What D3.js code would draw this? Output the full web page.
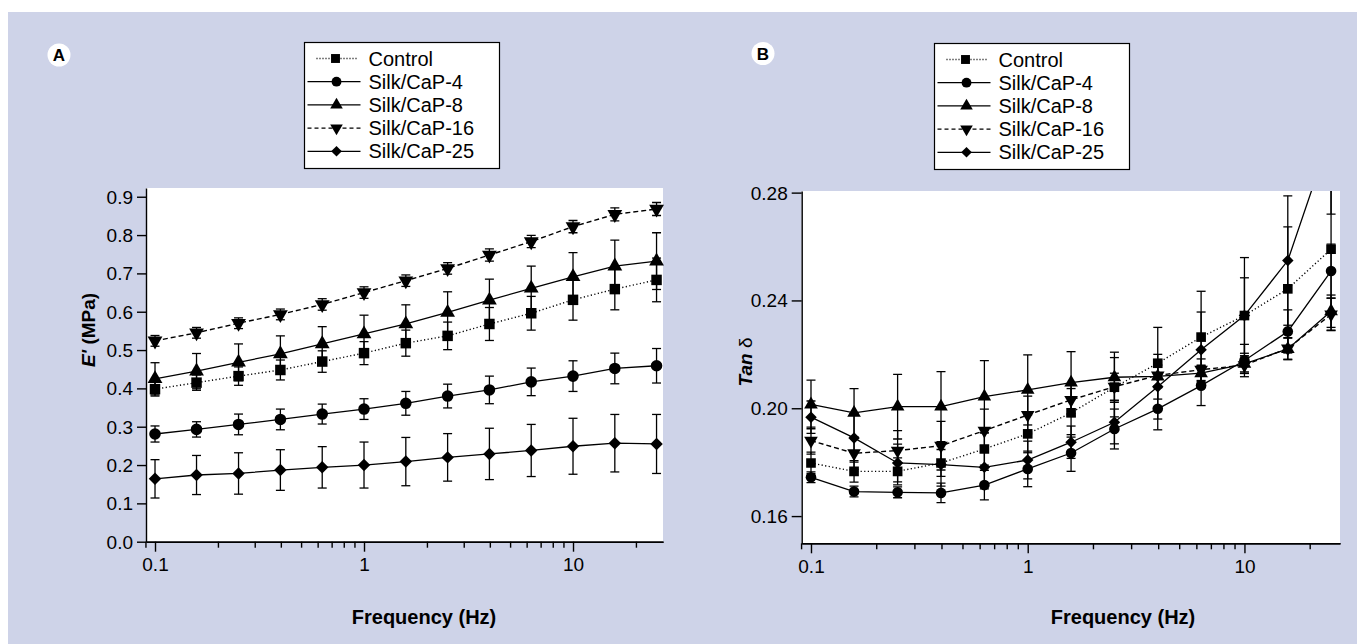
<!DOCTYPE html>
<html><head><meta charset="utf-8">
<script src="https://cdn.jsdelivr.net/npm/d3@7"></script>
<style>body{margin:0;background:#fff} svg{display:block} text{font-family:"Liberation Sans",Arial,Helvetica,sans-serif}</style>
</head><body><svg id="c" width="1357" height="644"></svg>
<script>
// ---------- data ----------
const freq = [0.1, 0.158, 0.251, 0.398, 0.631, 1, 1.585, 2.512, 3.981, 6.31, 10, 15.85, 25.1];
const seriesNames = ["Control", "Silk/CaP-4", "Silk/CaP-8", "Silk/CaP-16", "Silk/CaP-25"];

const xMajorTicks = [0.1, 1, 10];
const xMajorLabels = ["0.1", "1", "10"];
const xMinorTicks = [0.09, 0.2, 0.3, 0.4, 0.5, 0.6, 0.7, 0.8, 0.9, 2, 3, 4, 5, 6, 7, 8, 9, 20];
const yTicksA = [0, 0.1, 0.2, 0.3, 0.4, 0.5, 0.6, 0.7, 0.8, 0.9];
const yLabelsA = ["0.0", "0.1", "0.2", "0.3", "0.4", "0.5", "0.6", "0.7", "0.8", "0.9"];
const yTicksB = [0.16, 0.20, 0.24, 0.28];
const yLabelsB = ["0.16", "0.20", "0.24", "0.28"];

// Panel A: E' (MPa)
const controlE   = [0.398, 0.415, 0.432, 0.448, 0.470, 0.492, 0.518, 0.537, 0.568, 0.596, 0.631, 0.659, 0.683];
const controlEerr= [0.018, 0.020, 0.024, 0.026, 0.028, 0.030, 0.034, 0.036, 0.043, 0.044, 0.053, 0.054, 0.057];
const cap4E      = [0.281, 0.293, 0.306, 0.319, 0.333, 0.346, 0.361, 0.380, 0.396, 0.417, 0.432, 0.452, 0.459];
const cap4Eerr   = [0.021, 0.020, 0.027, 0.027, 0.026, 0.027, 0.031, 0.031, 0.036, 0.036, 0.040, 0.040, 0.045];
const cap8E      = [0.425, 0.445, 0.468, 0.490, 0.516, 0.542, 0.568, 0.598, 0.630, 0.661, 0.691, 0.719, 0.732];
const cap8Eerr   = [0.042, 0.046, 0.048, 0.047, 0.045, 0.049, 0.050, 0.054, 0.055, 0.058, 0.063, 0.068, 0.074];
const cap16E     = [0.524, 0.545, 0.570, 0.593, 0.619, 0.650, 0.681, 0.713, 0.748, 0.783, 0.822, 0.854, 0.868];
const cap16Eerr  = [0.014, 0.014, 0.014, 0.014, 0.015, 0.015, 0.015, 0.015, 0.016, 0.016, 0.016, 0.017, 0.017];
const cap25E     = [0.164, 0.174, 0.178, 0.187, 0.194, 0.200, 0.209, 0.220, 0.229, 0.238, 0.249, 0.257, 0.255];
const cap25Eerr  = [0.050, 0.051, 0.054, 0.053, 0.054, 0.060, 0.063, 0.062, 0.067, 0.068, 0.073, 0.075, 0.077];

// Panel B: Tan delta
const controlT   = [0.1797, 0.1766, 0.1766, 0.1797, 0.1849, 0.1905, 0.1983, 0.2078, 0.2167, 0.2264, 0.2344, 0.2443, 0.2590];
const controlTerr= [0.004, 0.004, 0.005, 0.005, 0.006, 0.007, 0.009, 0.011, 0.0133, 0.017, 0.0215, 0.023, 0.030];
const cap4T      = [0.1744, 0.1691, 0.1688, 0.1686, 0.1715, 0.1775, 0.1834, 0.1923, 0.1998, 0.2084, 0.2177, 0.2285, 0.2509];
const cap4Terr   = [0.002, 0.002, 0.002, 0.0036, 0.0055, 0.0066, 0.0068, 0.0074, 0.0078, 0.0074, 0.006, 0.008, 0.010];
const cap8T      = [0.2014, 0.1983, 0.2006, 0.2006, 0.2043, 0.2068, 0.2095, 0.2115, 0.2118, 0.2130, 0.2165, 0.2220, 0.2360];
const cap8Terr   = [0.009, 0.009, 0.012, 0.013, 0.0134, 0.013, 0.0115, 0.0093, 0.004, 0.003, 0.003, 0.004, 0.006];
const cap16T     = [0.1880, 0.1833, 0.1843, 0.1861, 0.1917, 0.1975, 0.2031, 0.2080, 0.2122, 0.2143, 0.2160, 0.2222, 0.2348];
const cap16Terr  = [0.005, 0.006, 0.0074, 0.009, 0.008, 0.007, 0.006, 0.005, 0.004, 0.004, 0.003, 0.004, 0.006];
const cap25T     = [0.1967, 0.1890, 0.1797, 0.1791, 0.1781, 0.1808, 0.1874, 0.1948, 0.2080, 0.2217, 0.2344, 0.2548, 0.3020];
const cap25Terr  = [0.006, 0.009, 0.007, 0.008, 0.008, 0.007, 0.006, 0.008, 0.012, 0.014, 0.014, 0.024, 0.030];

// ---------- styling / layout ----------
const BG = "#ced3e8";
const styles = [
  {dash: "1.2,2.4", sym: "square"},
  {dash: null, sym: "circle"},
  {dash: null, sym: "triUp"},
  {dash: "5,3", sym: "triDown"},
  {dash: null, sym: "diamond"}
];

const svg = d3.select("#c");
svg.append("rect").attr("x", 8).attr("y", 12).attr("width", 1349).attr("height", 632).attr("fill", BG);

function symPath(kind, scale) {
  const s = scale;
  switch (kind) {
    case "square": return {d: d3.symbol(d3.symbolSquare, 110 * s * s)(), rot: 0};
    case "circle": return {d: d3.symbol(d3.symbolCircle, 105 * s * s)(), rot: 0};
    case "triUp": return {d: d3.symbol(d3.symbolTriangle, 95 * s * s)(), rot: 0};
    case "triDown": return {d: d3.symbol(d3.symbolTriangle, 95 * s * s)(), rot: 180};
    case "diamond": return {d: d3.symbol(d3.symbolSquare, 78 * s * s)(), rot: 45};
  }
}

function drawPanel(cfg) {
  const x = d3.scaleLog().domain(cfg.xDomain).range([cfg.x0, cfg.x1]);
  const y = d3.scaleLinear().domain(cfg.yDomain).range([cfg.y1, cfg.y0]);
  const g = svg.append("g");
  g.append("rect").attr("x", cfg.x0).attr("y", cfg.y0)
    .attr("width", cfg.x1 - cfg.x0).attr("height", cfg.y1 - cfg.y0).attr("fill", "#fff");

  const clipId = "clip" + cfg.id;
  svg.append("clipPath").attr("id", clipId).append("rect")
    .attr("x", cfg.x0 - 8).attr("y", cfg.y0).attr("width", cfg.x1 - cfg.x0 + 16).attr("height", cfg.y1 - cfg.y0);
  const pg = g.append("g").attr("clip-path", `url(#${clipId})`);

  const line = d3.line().x(d => x(d.f)).y(d => y(d.v));
  cfg.series.forEach((vals, si) => {
    const pts = freq.map((f, i) => ({f, v: vals[i], e: cfg.errs[si][i]}));
    const eb = pg.append("g").attr("stroke", "#000").attr("stroke-width", 1.3);
    pts.forEach(p => {
      const xx = x(p.f), yt = y(p.v + p.e), yb = y(p.v - p.e);
      eb.append("line").attr("x1", xx).attr("x2", xx).attr("y1", yt).attr("y2", yb);
      eb.append("line").attr("x1", xx - 4.5).attr("x2", xx + 4.5).attr("y1", yt).attr("y2", yt);
      eb.append("line").attr("x1", xx - 4.5).attr("x2", xx + 4.5).attr("y1", yb).attr("y2", yb);
    });
    pg.append("path").datum(pts).attr("d", line).attr("fill", "none")
      .attr("stroke", "#000").attr("stroke-width", styles[si].dash ? 1.4 : 1.3)
      .attr("stroke-dasharray", styles[si].dash);
  });
  cfg.series.forEach((vals, si) => {
    const sp = symPath(styles[si].sym, cfg.markScale);
    freq.forEach((f, i) => {
      pg.append("path").attr("d", sp.d).attr("fill", "#000")
        .attr("transform", `translate(${x(f)},${y(vals[i])}) rotate(${sp.rot})`);
    });
  });

  // axes
  const yAxis = d3.axisLeft(y).tickValues(cfg.yTicks).tickFormat((d, i) => cfg.yLabels[i])
    .tickSize(cfg.yTickLen).tickSizeOuter(0).tickPadding(4);
  const ya = g.append("g").attr("transform", `translate(${cfg.x0},0)`).call(yAxis);
  const xAxis = d3.axisBottom(x).tickValues(xMajorTicks).tickFormat((d, i) => xMajorLabels[i])
    .tickSize(10).tickSizeOuter(0).tickPadding(6);
  const xa = g.append("g").attr("transform", `translate(0,${cfg.y1})`).call(xAxis);
  const xMinor = d3.axisBottom(x).tickValues(xMinorTicks).tickFormat("").tickSize(6).tickSizeOuter(0);
  const xm = g.append("g").attr("transform", `translate(0,${cfg.y1})`).call(xMinor);
  [ya, xa, xm].forEach(a => {
    a.selectAll("path, line").attr("stroke", "#000").attr("stroke-width", 1.4);
    a.selectAll("text").attr("font-size", 19).attr("fill", "#000")
      .attr("font-family", '"Liberation Sans",Arial,sans-serif');
  });
  ya.selectAll("text").attr("dy", "0.34em");

  // x title
  g.append("text").attr("x", cfg.xTitleX).attr("y", 624).attr("text-anchor", "middle")
    .attr("font-size", 20).attr("font-weight", "bold").text("Frequency (Hz)");
  // y title
  const yt = g.append("text").attr("transform", `translate(${cfg.yTitleX},${cfg.yTitleY}) rotate(-90)`)
    .attr("text-anchor", "middle").attr("font-size", 19).attr("font-weight", "bold");
  cfg.yTitle(yt);

  // panel letter
  g.append("circle").attr("cx", cfg.letterX).attr("cy", cfg.letterY).attr("r", 11.5).attr("fill", "#fff");
  g.append("text").attr("x", cfg.letterX).attr("y", cfg.letterY + 6).attr("text-anchor", "middle")
    .attr("font-size", 17).attr("font-weight", "bold").text(cfg.id);

  // legend
  const lg = g.append("g").attr("transform", `translate(${cfg.legX},${cfg.legY})`);
  lg.append("rect").attr("x", 0).attr("y", 0).attr("width", 195).attr("height", 126)
    .attr("fill", "#fff").attr("stroke", "#000").attr("stroke-width", 1.2);
  seriesNames.forEach((name, si) => {
    const ry = 16 + si * 23.2;
    const dotted = si === 0;
    lg.append("line").attr("x1", dotted ? 12 : 3).attr("x2", dotted ? 54 : 56).attr("y1", ry).attr("y2", ry)
      .attr("stroke", "#000").attr("stroke-width", 1.3)
      .attr("stroke-dasharray", styles[si].dash ? (dotted ? "1,2" : "4,3") : null);
    const sp = symPath(styles[si].sym, 0.85);
    lg.append("path").attr("d", sp.d).attr("fill", "#000")
      .attr("transform", `translate(${dotted ? 31 : 32},${ry}) rotate(${sp.rot})`);
    lg.append("text").attr("x", 64).attr("y", ry + 7).attr("font-size", 20).text(name);
  });
}

drawPanel({
  id: "A", x0: 146, x1: 663, y0: 188, y1: 541.7,
  xDomain: [0.09055, 26.95], yDomain: [0, 0.9228],
  yTicks: yTicksA, yLabels: yLabelsA, yTickLen: 9,
  series: [controlE, cap4E, cap8E, cap16E, cap25E],
  errs: [controlEerr, cap4Eerr, cap8Eerr, cap16Eerr, cap25Eerr],
  markScale: 1.0,
  xTitleX: 424, yTitleX: 95, yTitleY: 330,
  yTitle: t => { t.append("tspan").attr("font-style", "italic").text("E'"); t.append("tspan").text(" (MPa)"); },
  letterX: 59, letterY: 55, legX: 304.5, legY: 42.5
});

drawPanel({
  id: "B", x0: 801.7, x1: 1340, y0: 191, y1: 543.3,
  xDomain: [0.0906, 27.6], yDomain: [0.1499, 0.2806],
  yTicks: yTicksB, yLabels: yLabelsB, yTickLen: 10,
  series: [controlT, cap4T, cap8T, cap16T, cap25T],
  errs: [controlTerr, cap4Terr, cap8Terr, cap16Terr, cap25Terr],
  markScale: 0.92,
  xTitleX: 1123, yTitleX: 752, yTitleY: 362,
  yTitle: t => { t.append("tspan").attr("font-style", "italic").text("Tan"); t.append("tspan").attr("font-weight", "normal").text(" δ"); },
  letterX: 763, letterY: 53.5, legX: 934.5, legY: 43.5
});
</script></body></html>
